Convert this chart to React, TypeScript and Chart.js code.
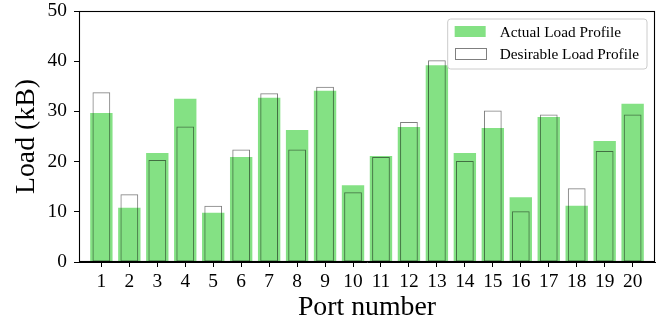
import React, { useEffect, useRef } from "react";
import { Chart, registerables } from "chart.js";

Chart.register(...registerables);

const ports = [1, 2, 3, 4, 5, 6, 7, 8, 9, 10, 11, 12, 13, 14, 15, 16, 17, 18, 19, 20];
const actualLoad = [29.7, 10.8, 21.7, 32.5, 9.8, 20.9, 32.7, 26.3, 34.1, 15.3, 21.1, 26.9, 39.2, 21.7, 26.7, 12.9, 28.9, 11.2, 24.1, 31.5];
const desirableLoad = [33.8, 13.5, 20.3, 27.0, 11.2, 22.4, 33.6, 22.4, 34.9, 13.9, 20.9, 27.9, 40.2, 20.1, 30.2, 10.1, 29.4, 14.7, 22.1, 29.4];
const yTicks = [0, 10, 20, 30, 40, 50];
const seriesLabels = ["Actual Load Profile", "Desirable Load Profile"];
const xTitle = "Port number";
const yTitle = "Load (kB)";

const FONT = "'Liberation Serif', 'DejaVu Serif', 'Times New Roman', serif";
const GREEN = "rgba(50,205,50,0.6)";
const EDGE = "rgba(0,0,0,0.5)";

const framePlugin = {
  id: "frame",
  afterDraw(chart: any) {
    const { ctx, chartArea } = chart;
    const l = Math.round(chartArea.left) + 0.5;
    const t = Math.round(chartArea.top) + 0.5;
    const r = Math.round(chartArea.right) - 0.5;
    const b = Math.round(chartArea.bottom) - 0.5;
    ctx.save();
    ctx.strokeStyle = "#000";
    ctx.lineWidth = 1.1;
    ctx.strokeRect(l, t, r - l, b - t);
    ctx.restore();
  },
};

const legendPlugin = {
  id: "boxLegend",
  afterDraw(chart: any) {
    const { ctx, chartArea } = chart;
    const ds = chart.data.datasets;
    ctx.save();
    ctx.font = `15.3px ${FONT}`;
    let maxW = 0;
    for (const d of ds) maxW = Math.max(maxW, ctx.measureText(d.label).width);
    const w = 52 + maxW + 8;
    const h = 50;
    const x0 = chartArea.right - 8 - w;
    const y0 = chartArea.top + 8;
    const rad = 3;
    ctx.beginPath();
    ctx.moveTo(x0 + rad, y0);
    ctx.lineTo(x0 + w - rad, y0);
    ctx.quadraticCurveTo(x0 + w, y0, x0 + w, y0 + rad);
    ctx.lineTo(x0 + w, y0 + h - rad);
    ctx.quadraticCurveTo(x0 + w, y0 + h, x0 + w - rad, y0 + h);
    ctx.lineTo(x0 + rad, y0 + h);
    ctx.quadraticCurveTo(x0, y0 + h, x0, y0 + h - rad);
    ctx.lineTo(x0, y0 + rad);
    ctx.quadraticCurveTo(x0, y0, x0 + rad, y0);
    ctx.closePath();
    ctx.fillStyle = "rgba(255,255,255,0.8)";
    ctx.fill();
    ctx.strokeStyle = "#cccccc";
    ctx.lineWidth = 1;
    ctx.stroke();

    ds.forEach((d: any, i: number) => {
      const cy = y0 + 12.5 + i * 22;
      const px = x0 + 7;
      const pw = 31;
      const ph = 11;
      if (i === 0) {
        ctx.fillStyle = d.backgroundColor;
        ctx.fillRect(px, cy - ph / 2, pw, ph);
      } else {
        ctx.strokeStyle = d.borderColor;
        ctx.lineWidth = 1;
        ctx.strokeRect(Math.round(px) + 0.5, Math.round(cy - ph / 2) + 0.5, pw, ph);
      }
      ctx.fillStyle = "#000";
      ctx.textAlign = "left";
      ctx.textBaseline = "middle";
      ctx.fillText(d.label, x0 + 52, cy + 1);
    });
    ctx.restore();
  },
};

export default function App() {
  const ref = useRef<HTMLCanvasElement | null>(null);

  useEffect(() => {
    if (!ref.current) return;
    const chart = new Chart(ref.current, {
      type: "bar",
      data: {
        datasets: [
          {
            label: seriesLabels[0],
            data: ports.map((p, i) => ({ x: p, y: actualLoad[i] })),
            backgroundColor: GREEN,
            borderWidth: 0,
            barPercentage: 0.8,
            categoryPercentage: 1,
            grouped: false,
            order: 2,
          },
          {
            label: seriesLabels[1],
            data: ports.map((p, i) => ({ x: p, y: desirableLoad[i] })),
            backgroundColor: "rgba(0,0,0,0)",
            borderColor: EDGE,
            borderWidth: 1,
            borderSkipped: false,
            barPercentage: 0.635,
            categoryPercentage: 1,
            grouped: false,
            order: 1,
          },
        ] as any,
      },
      options: {
        responsive: false,
        devicePixelRatio: 1,
        animation: false,
        layout: { padding: { top: 11, right: 17, left: 0, bottom: 0 } },
        plugins: {
          legend: { display: false },
          tooltip: { enabled: false },
        },
        scales: {
          x: {
            type: "linear",
            min: 0.2,
            max: 20.8,
            offset: false,
            afterBuildTicks: (scale: any) => {
              scale.ticks = ports.map((v) => ({ value: v }));
            },
            afterFit: (scale: any) => {
              scale.height = 62;
              scale.paddingLeft = 0;
              scale.paddingRight = 0;
            },
            grid: {
              offset: false,
              drawOnChartArea: false,
              drawTicks: true,
              tickLength: 5,
              tickWidth: 1,
              tickColor: "#000",
            },
            border: { display: true, color: "#000", width: 1 },
            ticks: {
              autoSkip: false,
              maxRotation: 0,
              minRotation: 0,
              padding: 3,
              color: "#000",
              font: { family: FONT, size: 19.4 },
              callback: (v: any) => String(v),
            },
            title: {
              display: true,
              text: xTitle,
              color: "#000",
              font: { family: FONT, size: 27.8 },
              padding: { top: 0, bottom: 0 },
            },
          },
          y: {
            min: 0,
            max: 50,
            afterBuildTicks: (scale: any) => {
              scale.ticks = yTicks.map((v) => ({ value: v }));
            },
            afterFit: (scale: any) => {
              scale.width = 79;
              scale.paddingTop = 0;
              scale.paddingBottom = 0;
            },
            grid: {
              drawOnChartArea: false,
              drawTicks: true,
              tickLength: 5,
              tickWidth: 1,
              tickColor: "#000",
            },
            border: { display: true, color: "#000", width: 1 },
            ticks: {
              padding: 7,
              color: "#000",
              font: { family: FONT, size: 19.4 },
              callback: (v: any) => String(v),
            },
            title: {
              display: true,
              text: yTitle,
              color: "#000",
              font: { family: FONT, size: 27.8 },
              padding: { top: 10, bottom: 0 },
            },
          },
        },
      } as any,
      plugins: [framePlugin, legendPlugin],
    });
    return () => chart.destroy();
  }, []);

  return (
    <div style={{ position: "absolute", left: 0, top: 0, width: 672, height: 324, background: "#fff" }}>
      <canvas ref={ref} width={672} height={324} />
    </div>
  );
}
